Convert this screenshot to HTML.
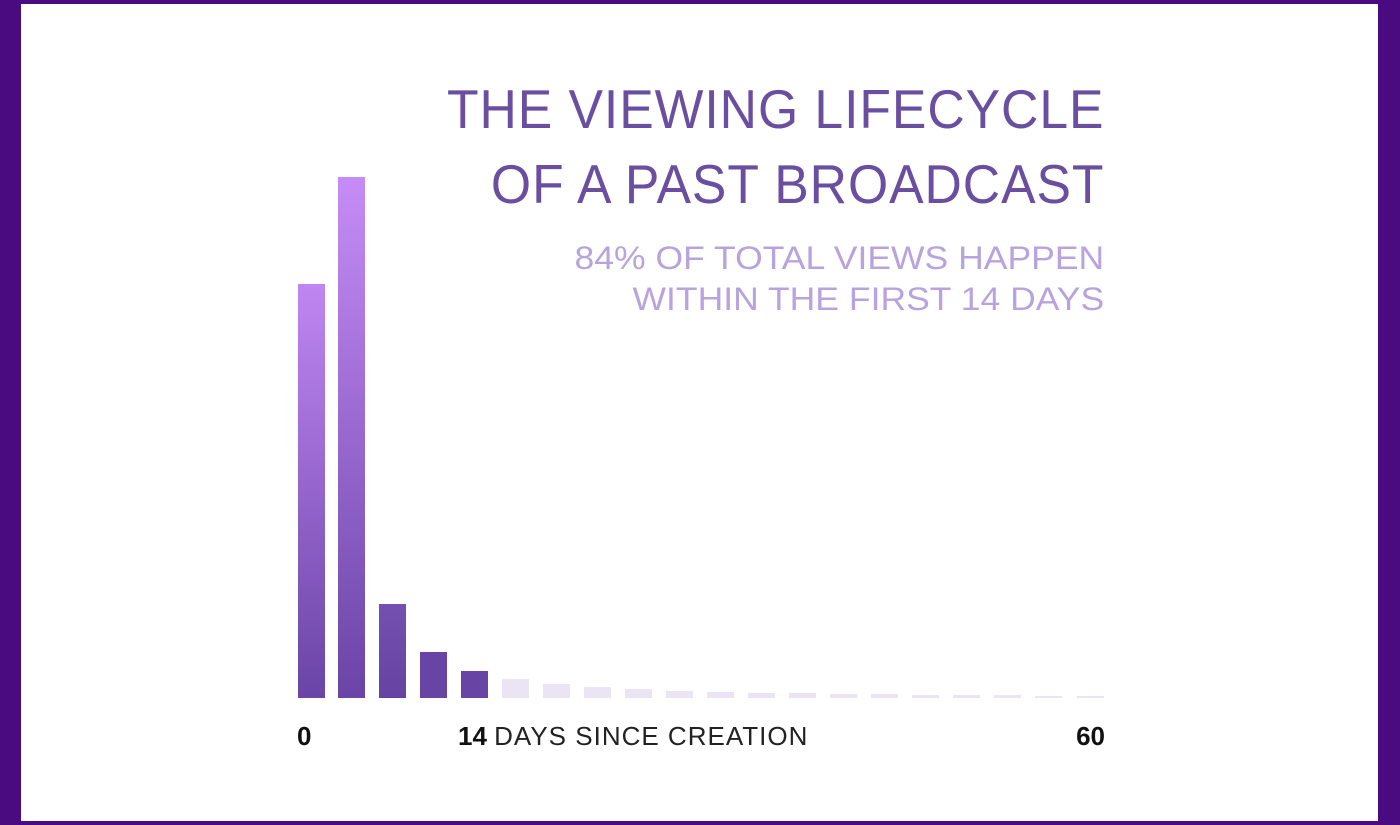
<!DOCTYPE html>
<html><head><style>
body{margin:0;width:1400px;height:825px;background:#4a0a80;position:relative;overflow:hidden;font-family:"Liberation Sans",sans-serif}
#w{position:absolute;left:21px;top:4px;width:1357px;height:817px;background:#fff}
.b{position:absolute;width:27px;bottom:127px}
.g{background:linear-gradient(#c68cf7,#6a44a6)}
.l{background:#ebe4f5}
.t{position:absolute;right:296px;text-align:right;white-space:nowrap}
</style></head><body>
<div id="w"></div>
<div class="t" style="top:72px;font-size:55px;line-height:75px;color:#6a4fa0;letter-spacing:1px;transform:scaleX(0.94);transform-origin:right">THE VIEWING LIFECYCLE<br>OF A PAST BROADCAST</div>
<div class="t" style="top:238px;font-size:32px;line-height:41px;color:#b9a3de;transform:scaleX(1.11);transform-origin:right">84% OF TOTAL VIEWS HAPPEN<br>WITHIN THE FIRST 14 DAYS</div>
<div class="b g" style="left:298px;top:284px;background:linear-gradient(#bf86f2,#6a44a6)"></div>
<div class="b g" style="left:338px;top:177px"></div>
<div class="b" style="left:379px;top:604px;background:linear-gradient(#7450b0,#6642a2)"></div>
<div class="b" style="left:420px;top:652px;background:#6844a4"></div>
<div class="b" style="left:461px;top:671px;background:#6844a4"></div>
<div class="b l" style="left:502px;top:679px"></div>
<div class="b l" style="left:543px;top:684px"></div>
<div class="b l" style="left:584px;top:687px"></div>
<div class="b l" style="left:625px;top:689px"></div>
<div class="b l" style="left:666px;top:691px"></div>
<div class="b l" style="left:707px;top:692px"></div>
<div class="b l" style="left:748px;top:693px"></div>
<div class="b l" style="left:789px;top:693px"></div>
<div class="b l" style="left:830px;top:694px"></div>
<div class="b l" style="left:871px;top:694px"></div>
<div class="b l" style="left:912px;top:695px"></div>
<div class="b l" style="left:953px;top:695px"></div>
<div class="b l" style="left:994px;top:695px"></div>
<div class="b l" style="left:1035px;top:696px"></div>
<div class="b l" style="left:1077px;top:696px"></div>
<div style="position:absolute;left:297px;top:721px;font-size:26px;font-weight:bold;color:#111">0</div>
<div style="position:absolute;left:458px;top:721px;font-size:26px;color:#222"><b style="color:#111">14</b> <span style="letter-spacing:1px">DAYS SINCE CREATION</span></div>
<div style="position:absolute;right:295px;top:721px;font-size:26px;font-weight:bold;color:#111">60</div>
</body></html>
